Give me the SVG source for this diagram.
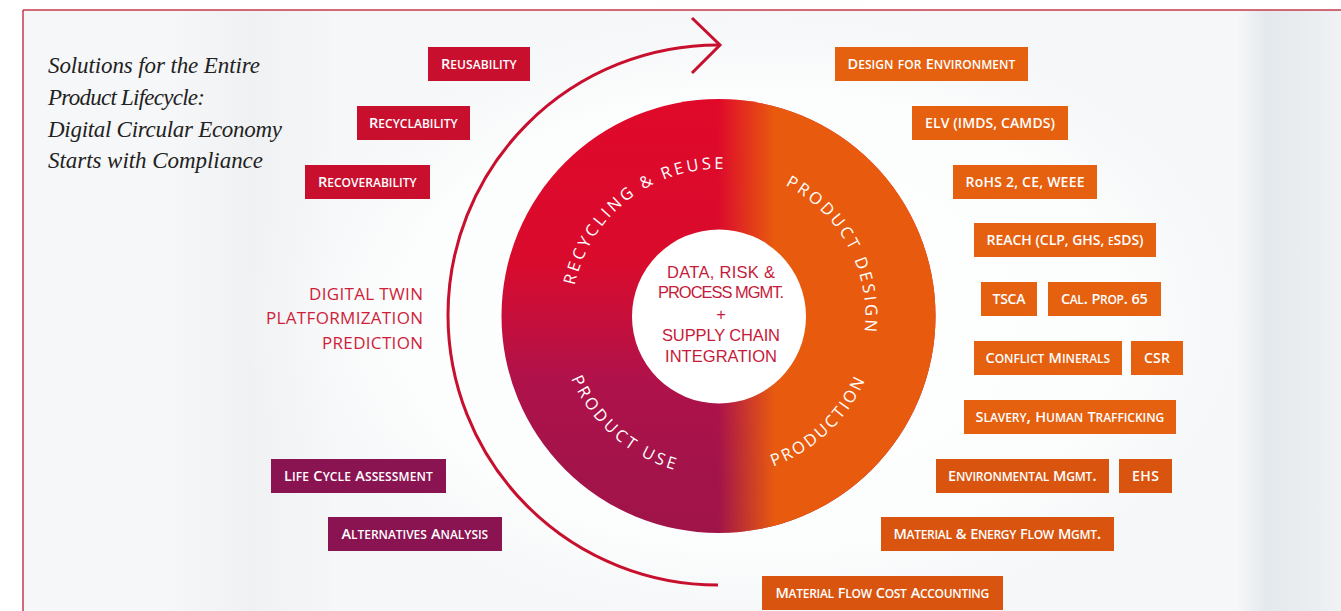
<svg xmlns="http://www.w3.org/2000/svg" width="1341" height="611" viewBox="0 0 1341 611">
<defs>
<style>
.bt{fill:#fff;font-family:"Open Sans","Noto Sans",sans-serif;font-size:16.5px;font-weight:600;font-variant:small-caps;letter-spacing:0.3px;text-anchor:middle}
.k{font-size:14.5px}
.bc{fill:#fff;font-family:"Open Sans","Noto Sans",sans-serif;font-size:14px;font-weight:600;text-anchor:middle}
.red{fill:#c8102e}
.pur{fill:#8a1352}
.org{fill:#e5600f}
.org2{fill:#d9540e}
.title{font-family:"Liberation Serif",serif;font-style:italic;font-size:23px;fill:#222}
.side{font-family:"Open Sans","Noto Sans",sans-serif;font-size:17px;fill:#cf1e3a;text-anchor:end}
.ctr{font-family:"Liberation Sans",Arial,sans-serif;font-size:16.5px;fill:#c61a3a;text-anchor:middle}
.ring{font-family:"Open Sans","Noto Sans",sans-serif;font-size:16.5px;fill:#fff}
.arc{fill:none;stroke:#c8102e;stroke-width:3;stroke-linecap:butt}
</style>
<linearGradient id="lg" gradientUnits="userSpaceOnUse" x1="0" y1="99" x2="0" y2="533">
<stop offset="0" stop-color="#e0092a"/>
<stop offset="0.38" stop-color="#d90b2d"/>
<stop offset="0.64" stop-color="#b0124a"/>
<stop offset="0.85" stop-color="#a3134a"/>
<stop offset="1" stop-color="#a01449"/>
</linearGradient>
<linearGradient id="og" gradientUnits="userSpaceOnUse" x1="718" y1="0" x2="775" y2="0">
<stop offset="0" stop-color="#e85b0e" stop-opacity="0"/>
<stop offset="1" stop-color="#e85b0e" stop-opacity="1"/>
</linearGradient>
<linearGradient id="rb" x1="0" y1="0" x2="1" y2="0">
<stop offset="0" stop-color="#f7f8f9"/>
<stop offset="0.3" stop-color="#e4e9ed"/>
<stop offset="0.6" stop-color="#e8ecef"/>
<stop offset="1" stop-color="#f0f2f4"/>
</linearGradient>
<linearGradient id="lb" x1="0" y1="0" x2="1" y2="0">
<stop offset="0" stop-color="#f6f7f8"/>
<stop offset="0.5" stop-color="#eff1f3"/>
<stop offset="1" stop-color="#f5f6f7"/>
</linearGradient>
<radialGradient id="glow" cx="0.5" cy="0.5" r="0.5">
<stop offset="0" stop-color="#ffffff"/>
<stop offset="0.7" stop-color="#fcfdfd"/>
<stop offset="1" stop-color="#f5f7f8" stop-opacity="0"/>
</radialGradient>
<path id="p-rr" d="M 574.7 285.4 A 147 147 0 0 1 723.6 169.1"/>
<path id="p-pd" d="M 785.2 185.0 A 147 147 0 0 1 864.7 331.4"/>
<path id="p-pu" d="M 571.2 378.5 A 160 160 0 0 0 674.4 469.8"/>
<path id="p-pr" d="M 773.2 466.4 A 160 160 0 0 0 865.1 380.0"/>
</defs>

<rect x="0" y="0" width="1341" height="611" fill="#ffffff"/>
<g id="background">
<rect x="23" y="10" width="1318" height="601" fill="#f6f7f8"/>
<rect x="170" y="10" width="160" height="601" fill="url(#lb)"/>
<ellipse cx="760" cy="320" rx="520" ry="330" fill="url(#glow)"/>
<rect x="1235" y="10" width="106" height="601" fill="url(#rb)"/>
<line x1="23" y1="10" x2="1341" y2="10" stroke="#c23b4b" stroke-width="1.5"/>
<line x1="23" y1="10" x2="23" y2="611" stroke="#c23b4b" stroke-width="1.5"/>
</g>

<g id="title">
<text class="title" x="48" y="73" textLength="212" lengthAdjust="spacing">Solutions for the Entire</text>
<text class="title" x="48" y="105" textLength="157" lengthAdjust="spacing">Product Lifecycle:</text>
<text class="title" x="48" y="137" textLength="234" lengthAdjust="spacing">Digital Circular Economy</text>
<text class="title" x="48" y="168" textLength="215" lengthAdjust="spacing">Starts with Compliance</text>
</g>

<g id="connectors">
<path class="arc" d="M 718 585 A 270 270 0 0 1 718 45"/>
<path class="arc" d="M 692 18 L 720 45 L 692 73" stroke-linejoin="miter"/>
</g>

<g id="lifecycle-wheel">
<circle cx="718.5" cy="316" r="217" fill="url(#lg)"/>
<circle cx="718.5" cy="316" r="217" fill="url(#og)"/>
<circle cx="719" cy="316.5" r="87" fill="#ffffff"/>
<text class="ring"><textPath href="#p-rr" textLength="205" lengthAdjust="spacing">RECYCLING &amp; REUSE</textPath></text>
<text class="ring"><textPath href="#p-pd" textLength="177" lengthAdjust="spacing">PRODUCT DESIGN</textPath></text>
<text class="ring"><textPath href="#p-pu" textLength="142" lengthAdjust="spacing">PRODUCT USE</textPath></text>
<text class="ring"><textPath href="#p-pr" textLength="129" lengthAdjust="spacing">PRODUCTION</textPath></text>
</g>

<g id="center">
<text class="ctr" x="721" y="278" textLength="108" lengthAdjust="spacing">DATA, RISK &amp;</text>
<text class="ctr" x="721" y="298" textLength="126" lengthAdjust="spacing">PROCESS MGMT.</text>
<text class="ctr" x="721" y="320">+</text>
<text class="ctr" x="721" y="341" textLength="118" lengthAdjust="spacing">SUPPLY CHAIN</text>
<text class="ctr" x="721" y="362" textLength="112" lengthAdjust="spacing">INTEGRATION</text>
</g>

<g id="digital">
<text class="side" x="423" y="300" textLength="114" lengthAdjust="spacing">DIGITAL TWIN</text>
<text class="side" x="423" y="324" textLength="157" lengthAdjust="spacing">PLATFORMIZATION</text>
<text class="side" x="423" y="349" textLength="101" lengthAdjust="spacing">PREDICTION</text>
</g>

<g id="reusability"><rect class="red" x="428" y="47" width="102" height="34"/><text class="bt" x="479" y="69" textLength="76" lengthAdjust="spacing"><tspan class="k">R</tspan>eusability</text></g>
<g id="recyclability"><rect class="red" x="357" y="106" width="113" height="34"/><text class="bt" x="413.5" y="128" textLength="89" lengthAdjust="spacing"><tspan class="k">R</tspan>ecyclability</text></g>
<g id="recoverability"><rect class="red" x="305" y="165" width="125" height="34"/><text class="bt" x="367.5" y="187" textLength="99" lengthAdjust="spacing"><tspan class="k">R</tspan>ecoverability</text></g>

<g id="lca"><rect class="pur" x="271" y="459" width="175" height="34"/><text class="bt" x="358.5" y="481" textLength="149" lengthAdjust="spacing"><tspan class="k">L</tspan>ife <tspan class="k">C</tspan>ycle <tspan class="k">A</tspan>ssessment</text></g>
<g id="alternatives"><rect class="pur" x="328" y="517" width="174" height="34"/><text class="bt" x="415" y="539" textLength="147" lengthAdjust="spacing"><tspan class="k">A</tspan>lternatives <tspan class="k">A</tspan>nalysis</text></g>

<g id="dfe"><rect class="org" x="835" y="47" width="193" height="34"/><text class="bt" x="931.5" y="69" textLength="168" lengthAdjust="spacing"><tspan class="k">D</tspan>esign for <tspan class="k">E</tspan>nvironment</text></g>
<g id="elv"><rect class="org" x="912" y="106" width="156" height="34"/><text class="bc" x="990" y="128" textLength="130" lengthAdjust="spacing">ELV (IMDS, CAMDS)</text></g>
<g id="rohs"><rect class="org" x="953" y="165" width="144" height="34"/><text class="bc" x="1025" y="187" textLength="119" lengthAdjust="spacing">RoHS 2, CE, WEEE</text></g>
<g id="reach"><rect class="org" x="974" y="223" width="182" height="34"/><text class="bc" x="1065" y="245" textLength="157" lengthAdjust="spacing">REACH (CLP, GHS, <tspan font-variant="small-caps">e</tspan>SDS)</text></g>
<g id="tsca"><rect class="org" x="981" y="282" width="56" height="34"/><text class="bc" x="1009" y="304" textLength="33" lengthAdjust="spacing">TSCA</text></g>
<g id="prop65"><rect class="org" x="1048" y="282" width="113" height="34"/><text class="bt" x="1104.5" y="304" textLength="87" lengthAdjust="spacing"><tspan class="k">C</tspan>al. <tspan class="k">P</tspan>rop. <tspan class="k">65</tspan></text></g>
<g id="conflict"><rect class="org" x="974" y="341" width="148" height="34"/><text class="bt" x="1048" y="363" textLength="125" lengthAdjust="spacing"><tspan class="k">C</tspan>onflict <tspan class="k">M</tspan>inerals</text></g>
<g id="csr"><rect class="org" x="1131" y="341" width="52" height="34"/><text class="bc" x="1157" y="363" textLength="26" lengthAdjust="spacing">CSR</text></g>
<g id="slavery"><rect class="org" x="964" y="400" width="212" height="34"/><text class="bt" x="1070" y="422" textLength="189" lengthAdjust="spacing"><tspan class="k">S</tspan>lavery, <tspan class="k">H</tspan>uman <tspan class="k">T</tspan>rafficking</text></g>
<g id="envmgmt"><rect class="org2" x="936" y="459" width="173" height="34"/><text class="bt" x="1022.5" y="481" textLength="149" lengthAdjust="spacing"><tspan class="k">E</tspan>nvironmental <tspan class="k">M</tspan>gmt.</text></g>
<g id="ehs"><rect class="org2" x="1119" y="459" width="53" height="34"/><text class="bc" x="1145.5" y="481" textLength="27" lengthAdjust="spacing">EHS</text></g>
<g id="mefm"><rect class="org2" x="881" y="517" width="233" height="34"/><text class="bt" x="997.5" y="539" textLength="208" lengthAdjust="spacing"><tspan class="k">M</tspan>aterial <tspan class="k">&amp;</tspan> <tspan class="k">E</tspan>nergy <tspan class="k">F</tspan>low <tspan class="k">M</tspan>gmt.</text></g>
<g id="mfca"><rect class="org2" x="762" y="576" width="241" height="34"/><text class="bt" x="882.5" y="598" textLength="214" lengthAdjust="spacing"><tspan class="k">M</tspan>aterial <tspan class="k">F</tspan>low <tspan class="k">C</tspan>ost <tspan class="k">A</tspan>ccounting</text></g>
</svg>
